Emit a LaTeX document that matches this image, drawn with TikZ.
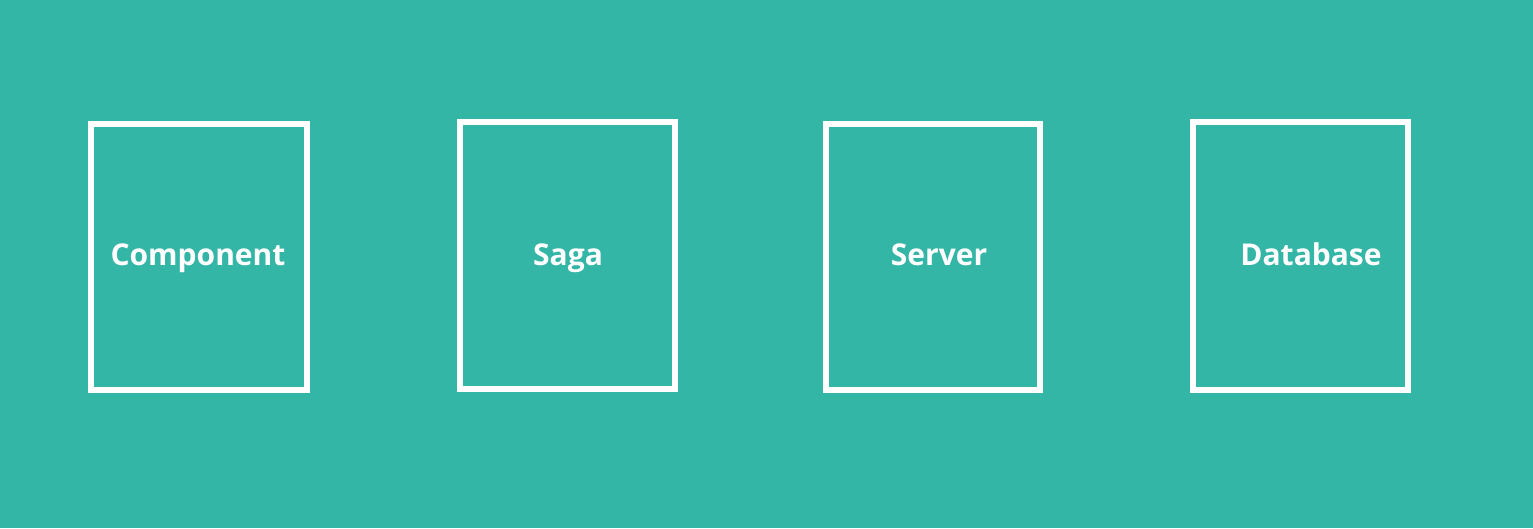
\documentclass[tikz,border=0pt]{standalone}
\usepackage{fontspec}
\setmainfont{Open Sans}
\definecolor{bg}{RGB}{52,182,167}
\begin{document}
\begin{tikzpicture}[x=1pt,y=-1pt,
  card/.style={draw=white,line width=6pt,inner sep=0pt},
  lbl/.style={text=white,font=\fontsize{30}{33}\selectfont\bfseries,inner sep=0pt,anchor=base}]
\fill[bg] (0,0) rectangle (1533,528);
\useasboundingbox (0,0) rectangle (1533,528);
\draw[card] (91,123.5) rectangle (306.5,390);
\draw[card] (459.5,122) rectangle (674.5,389);
\draw[card] (825.5,124) rectangle (1039.5,390);
\draw[card] (1193,122) rectangle (1408,390);
\node[lbl] (c) at (198,265) {Component};
\node[lbl] (s) at (568,265) {Saga};
\node[lbl] (v) at (939,265) {Server};
\node[lbl] (d) at (1311,265) {Database};
\end{tikzpicture}
\end{document}
